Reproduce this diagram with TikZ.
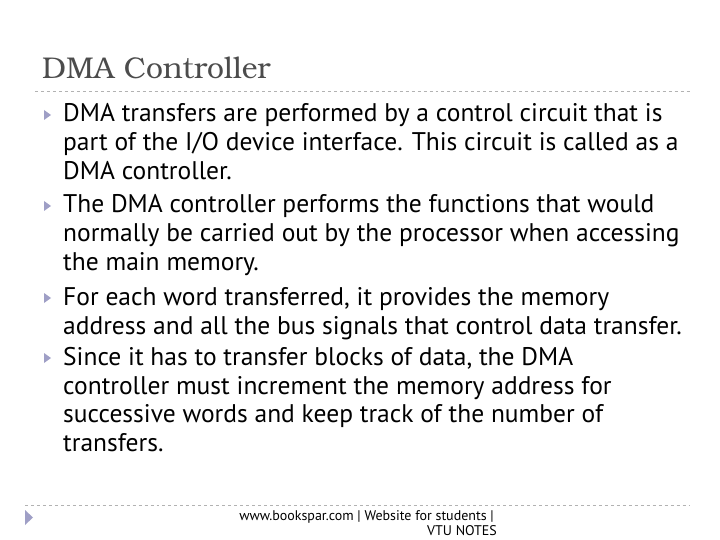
\documentclass[tikz,border=0pt]{standalone}
\usepackage{fontspec}
\setmainfont{PT Sans}
\newfontfamily\titlefont{TeX Gyre Bonum}
\begin{document}
\begin{tikzpicture}[x=1bp,y=-1bp,
  body/.style={anchor=base west,inner sep=0pt,font=\fontsize{25.5bp}{28bp}\selectfont},
  bul/.style={fill=gray!75!blue!60!white,draw=none},
  dl/.style={draw=gray!60,dashed,line width=0.6pt}]
\useasboundingbox (0,0) rectangle (720,540);
\node[anchor=base west,inner sep=0pt,font=\titlefont\fontsize{30bp}{34bp}\selectfont,text=black!70] (title) at (42,79) {DMA Controller};
\draw[dl] (35,91) -- (690,91);
\foreach \y/\t in {122/{DMA transfers are performed by a control circuit that is},
151/{part of the I/O device interface. This circuit is called as a},
180/{DMA controller.},
213/{The DMA controller performs the functions that would},
242/{normally be carried out by the processor when accessing},
271/{the main memory.},
305/{For each word transferred, it provides the memory},
334/{address and all the bus signals that control data transfer.},
365/{Since it has to transfer blocks of data, the DMA},
394/{controller must increment the memory address for},
422/{successive words and keep track of the number of},
451/{transfers.}}
  \node[body] at (63,\y) {\t};
\foreach \y in {115,206,298,358}
  \fill[bul] (44,\y-5) -- (51,\y) -- (44,\y+5) -- cycle;
\draw[dl] (25,505) -- (690,505);
\fill[bul] (25,510) -- (33,517.5) -- (25,525) -- cycle;
\node[anchor=base east,inner sep=0pt,font=\fontsize{14bp}{16bp}\selectfont] (f1) at (494,520) {www.bookspar.com | Website for students |};
\node[anchor=base east,inner sep=0pt,font=\fontsize{14bp}{16bp}\selectfont] (f2) at (497,535) {VTU NOTES};
\end{tikzpicture}
\end{document}
